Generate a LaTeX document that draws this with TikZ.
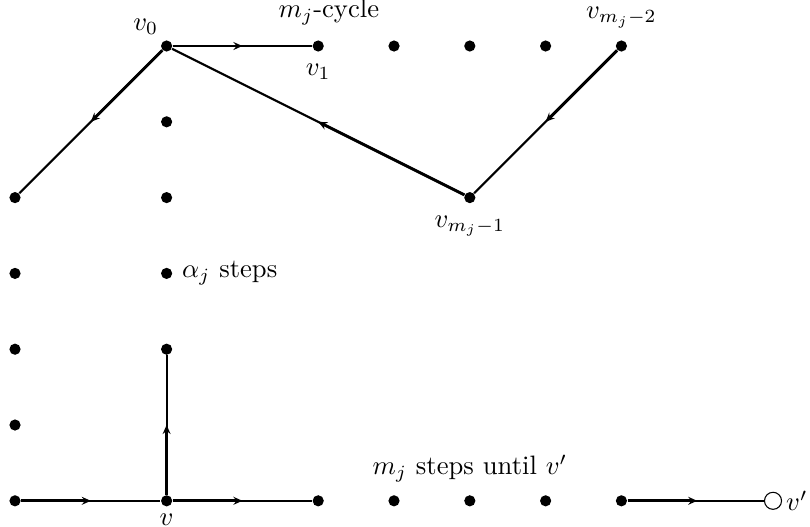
\documentclass[tikz,border=0pt]{standalone}
\usetikzlibrary{arrows.meta,calc,positioning}
\begin{document}
\begin{tikzpicture}[x=1cm,y=1cm,>={Stealth[length=3.4pt,width=3pt,inset=1.2pt]},
 dot/.style={circle,fill,inner sep=0pt,minimum size=4.2pt},
 hole/.style={circle,draw,fill=white,inner sep=0pt,minimum size=6.4pt},
 edge/.style={line width=.8pt},
 half/.style={line width=1.1pt,->}]
 \useasboundingbox (-0.198,-0.343) rectangle (10.488,6.607);
 % grid points
 \foreach \x/\y/\n in {2/6/v0,4/6/v1,5/6/t5,6/6/t6,7/6/t7,8/6/vb,
                       6/4/va,0/4/l4,2/5/c5,2/4/c4,2/3/c3,2/2/c2,
                       0/3/l3,0/2/l2,0/1/l1,0/0/l0,2/0/v,4/0/b4,
                       5/0/b5,6/0/b6,7/0/b7,8/0/b8}{
   \node[dot] (\n) at (\x,\y) {};
 }
 \node[hole] (vp) at (10,0) {};
 % cycle
 \draw[edge] (v0) -- (v1);
 \draw[half] (v0) -- ($(v0)!.5!(v1)$);
 \draw[edge] (v0) -- (l4);
 \draw[half] (v0) -- ($(v0)!.5!(l4)$);
 \draw[edge] (vb) -- (va);
 \draw[half] (vb) -- ($(vb)!.5!(va)$);
 \draw[edge] (va) -- (v0);
 \draw[half] (va) -- ($(va)!.5!(v0)$);
 % bottom row
 \draw[edge] (l0) -- (v);
 \draw[half] (l0) -- ($(l0)!.5!(v)$);
 \draw[edge] (v) -- (b4);
 \draw[half] (v) -- ($(v)!.5!(b4)$);
 \draw[edge] (v) -- (c2);
 \draw[half] (v) -- ($(v)!.5!(c2)$);
 \draw[edge] (b8) -- (vp);
 \draw[half] (b8) -- ($(b8)!.5!(vp)$);
 % labels
 \node[above left=-1pt and -2pt of v0] (lv0) {$v_0$};
 \node[above=2pt of v1,xshift=4pt] (lcyc) {$m_j$-cycle};
 \node[below=1pt of v1] (lv1) {$v_1$};
 \node[above=1pt of vb] (lvb) {$v_{m_j-2}$};
 \node[below=1pt of va] (lva) {$v_{m_j-1}$};
 \node[right=0pt of c3] (lal) {$\alpha_j$ steps};
 \node[below=-1pt of v] (lv) {$v$};
 \node[above=1pt of b6] (lst) {$m_j$ steps until $v'$};
 \node[right=-2pt of vp] (lvp) {$v'$};
\end{tikzpicture}
\end{document}
